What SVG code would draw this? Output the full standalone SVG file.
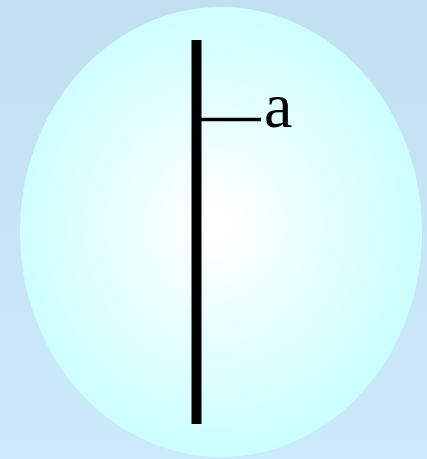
<svg xmlns="http://www.w3.org/2000/svg" width="427" height="459" viewBox="0 0 427 459">
  <defs>
    <linearGradient id="bg" x1="0" y1="0" x2="0" y2="1">
      <stop offset="0" stop-color="#c2dff0"/>
      <stop offset="1" stop-color="#cbeafc"/>
    </linearGradient>
    <radialGradient id="glow" cx="215" cy="225" r="205" gradientUnits="userSpaceOnUse" gradientTransform="translate(215 225) scale(1 1.1) translate(-215 -225)">
      <stop offset="0.05" stop-color="#ffffff"/>
      <stop offset="1" stop-color="#ccffff"/>
    </radialGradient>
    <style>
      .stem { stroke: #000; stroke-width: 10; fill: none; }
      .tick { stroke: #000; stroke-width: 3.5; fill: none; }
      .lbl { font-family: "Liberation Serif", "Times New Roman", serif; font-size: 64px; fill: #000; }
    </style>
  </defs>
  <rect width="427" height="459" fill="url(#bg)"/>
  <g id="cell">
    <ellipse cx="221" cy="232" rx="201" ry="225" fill="url(#glow)"/>
  </g>
  <g id="connectors">
    <line class="stem" x1="196.5" y1="40" x2="196.5" y2="424"/>
    <line class="tick" x1="201" y1="119.5" x2="261" y2="119.5"/>
  </g>
  <g id="label-a">
    <text class="lbl" x="264" y="127">a</text>
  </g>
</svg>
